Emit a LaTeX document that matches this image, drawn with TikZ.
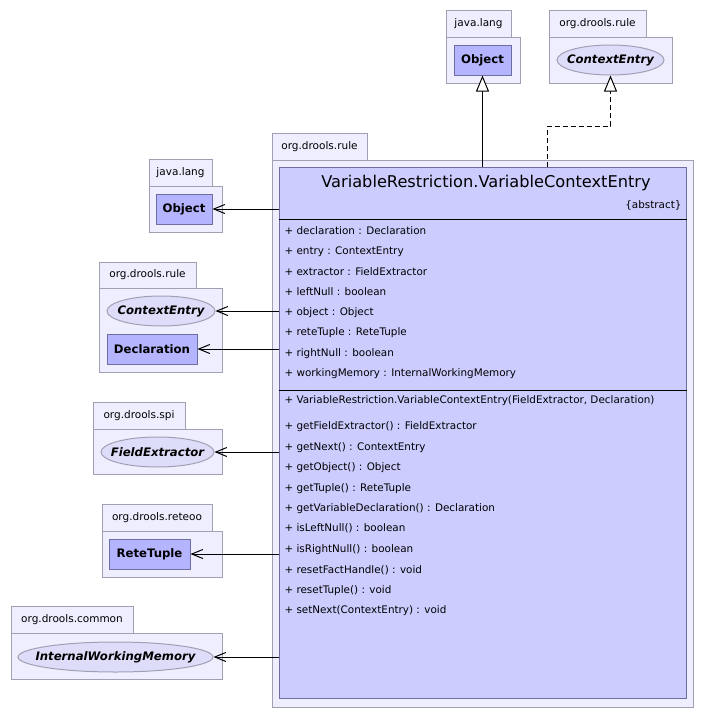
\documentclass[tikz,border=0pt]{standalone}
\usepackage{fontspec}
\setmainfont{DejaVu Sans}
\usetikzlibrary{positioning, shapes, arrows.meta}

\definecolor{pkgfill}{RGB}{238,238,255}
\definecolor{pkgline}{RGB}{160,160,180}
\definecolor{clsfill}{RGB}{180,180,255}
\definecolor{clsline}{RGB}{110,110,160}
\definecolor{mainfill}{RGB}{204,204,255}
\definecolor{ifcfill}{RGB}{221,221,250}

\tikzset{
    pkgtab/.style={draw=pkgline, fill=pkgfill, inner sep=0pt, font=\fontsize{10.5}{10.5}\selectfont},
    pkgbody/.style={draw=pkgline, fill=pkgfill, inner sep=0pt},
    clsbox/.style={draw=clsline, fill=clsfill, inner sep=0pt, font=\bfseries\fontsize{11.7}{11.7}\selectfont},
    ifcbox/.style={ellipse, draw=pkgline, fill=ifcfill, inner xsep=-40pt, inner ysep=-20pt, font=\bfseries\itshape\fontsize{11.7}{11.7}\selectfont},
    member/.style={anchor=west, inner sep=0pt, font=\fontsize{10.4}{10.4}\selectfont},
    uses/.style={-{Straight Barb[length=11pt, width=9pt]}},
    inherit/.style={-{Triangle[open, length=16pt, width=13pt, fill=white]}},
    realize/.style={inherit, dash pattern=on 5pt off 3pt}
}

\begin{document}
\begin{tikzpicture}[x=1pt, y=-1pt, line width=1pt]
                \useasboundingbox (0,0) rectangle (704,718);

                % Top packages
                \node[pkgtab, minimum width=65pt, minimum height=27pt] (jlTtab) at (478.5,23.5) {java.lang};
                \node[pkgbody, minimum width=74pt, minimum height=46pt] (jlT) at (483,60) {};
                \node[clsbox, minimum width=57pt, minimum height=30pt] (objT) at (482.5,60) {Object};

                \node[pkgtab, minimum width=97pt, minimum height=27pt] (drTtab) at (597.5,23.5) {org.drools.rule};
                \node[pkgbody, minimum width=123pt, minimum height=46pt] (drT) at (610.5,60) {};
                \node[ifcbox, minimum width=107pt, minimum height=30pt] (ceT) at (610.5,60) {ContextEntry};

                % Main package and class
                \node[pkgtab, minimum width=95pt, minimum height=27pt] (drMtab) at (319.5,146.5) {org.drools.rule};
                \node[pkgbody, minimum width=421pt, minimum height=547pt] (drM) at (482.5,433.5) {};
                \node[draw=clsline, fill=mainfill, inner sep=0pt, minimum width=407pt, minimum height=531pt] (main) at (482.5,432.5) {};

                \node[font=\fontsize{16.2}{16.2}\selectfont, inner sep=0pt] (title) at (486,183) {VariableRestriction.VariableContextEntry};
                \node[member, anchor=east] (abs) at (682,205) {\{abstract\}};
                \draw (main.west |- 0,219) -- (main.east |- 0,219);
                \draw (main.west |- 0,390) -- (main.east |- 0,390);

                % Attributes
                \node[member] (a1) at (284,231) {+ declaration : Declaration};
                \node[member] (a2) at (284,252) {+ entry : ContextEntry};
                \node[member] (a3) at (284,272) {+ extractor : FieldExtractor};
                \node[member] (a4) at (284,292) {+ leftNull : boolean};
                \node[member] (a5) at (284,313) {+ object : Object};
                \node[member] (a6) at (284,333) {+ reteTuple : ReteTuple};
                \node[member] (a7) at (284,354) {+ rightNull : boolean};
                \node[member] (a8) at (284,374) {+ workingMemory : InternalWorkingMemory};

                % Operations
                \node[member] (m0) at (284,400.5) {+ VariableRestriction.VariableContextEntry(FieldExtractor, Declaration)};
                \node[member] (m1) at (284,426.5) {+ getFieldExtractor() : FieldExtractor};
                \node[member] (m2) at (284,447.5) {+ getNext() : ContextEntry};
                \node[member] (m3) at (284,467.5) {+ getObject() : Object};
                \node[member] (m4) at (284,488.5) {+ getTuple() : ReteTuple};
                \node[member] (m5) at (284,508.5) {+ getVariableDeclaration() : Declaration};
                \node[member] (m6) at (284,528.5) {+ isLeftNull() : boolean};
                \node[member] (m7) at (284,549.5) {+ isRightNull() : boolean};
                \node[member] (m8) at (284,570) {+ resetFactHandle() : void};
                \node[member] (m9) at (284,590.5) {+ resetTuple() : void};
                \node[member] (m10) at (284,610.5) {+ setNext(ContextEntry) : void};

                % Left packages
                \node[pkgtab, minimum width=63pt, minimum height=27pt] (jlLtab) at (180.5,172.5) {java.lang};
                \node[pkgbody, minimum width=73pt, minimum height=46pt] (jlL) at (185.5,209) {};
                \node[clsbox, minimum width=56pt, minimum height=30pt] (objL) at (184,209) {Object};

                \node[pkgtab, minimum width=97pt, minimum height=26pt] (drLtab) at (147.5,275) {org.drools.rule};
                \node[pkgbody, minimum width=123pt, minimum height=84pt] (drL) at (160.5,330) {};
                \node[ifcbox, minimum width=108pt, minimum height=30pt] (ceL) at (161,311) {ContextEntry};
                \node[clsbox, minimum width=90pt, minimum height=30pt] (decl) at (152,349) {Declaration};

                \node[pkgtab, minimum width=92pt, minimum height=27pt] (spitab) at (139,415.5) {org.drools.spi};
                \node[pkgbody, minimum width=129pt, minimum height=45pt] (spi) at (157.5,451.5) {};
                \node[ifcbox, minimum width=113pt, minimum height=30pt] (fext) at (157.5,452) {FieldExtractor};

                \node[pkgtab, minimum width=110pt, minimum height=27pt] (rtotab) at (157,517.5) {org.drools.reteoo};
                \node[pkgbody, minimum width=120pt, minimum height=46pt] (rto) at (162,554) {};
                \node[clsbox, minimum width=81pt, minimum height=30pt] (rtup) at (149.5,554) {ReteTuple};

                \node[pkgtab, minimum width=122pt, minimum height=27pt] (cmntab) at (72,619.5) {org.drools.common};
                \node[pkgbody, minimum width=211pt, minimum height=46pt] (cmn) at (116.5,656) {};
                \node[ifcbox, minimum width=195pt, minimum height=30pt] (iwm) at (115.5,657) {InternalWorkingMemory};

                % Generalization and realization
                \draw[inherit] (main.north -| objT) -- (objT.south);
                \coordinate (bend) at (547,126);
                \draw[realize] (main.north -| bend) -- (bend) -| (ceT.south);

                % Dependencies
                \draw[uses] (main.west |- objL) -- (objL.east);
                \draw[uses] (main.west |- ceL) -- (ceL.east);
                \draw[uses] (main.west |- decl) -- (decl.east);
                \draw[uses] (main.west |- fext) -- (fext.east);
                \draw[uses] (main.west |- rtup) -- (rtup.east);
                \draw[uses] (main.west |- iwm) -- (iwm.east);
    \end{tikzpicture}
\end{document}
